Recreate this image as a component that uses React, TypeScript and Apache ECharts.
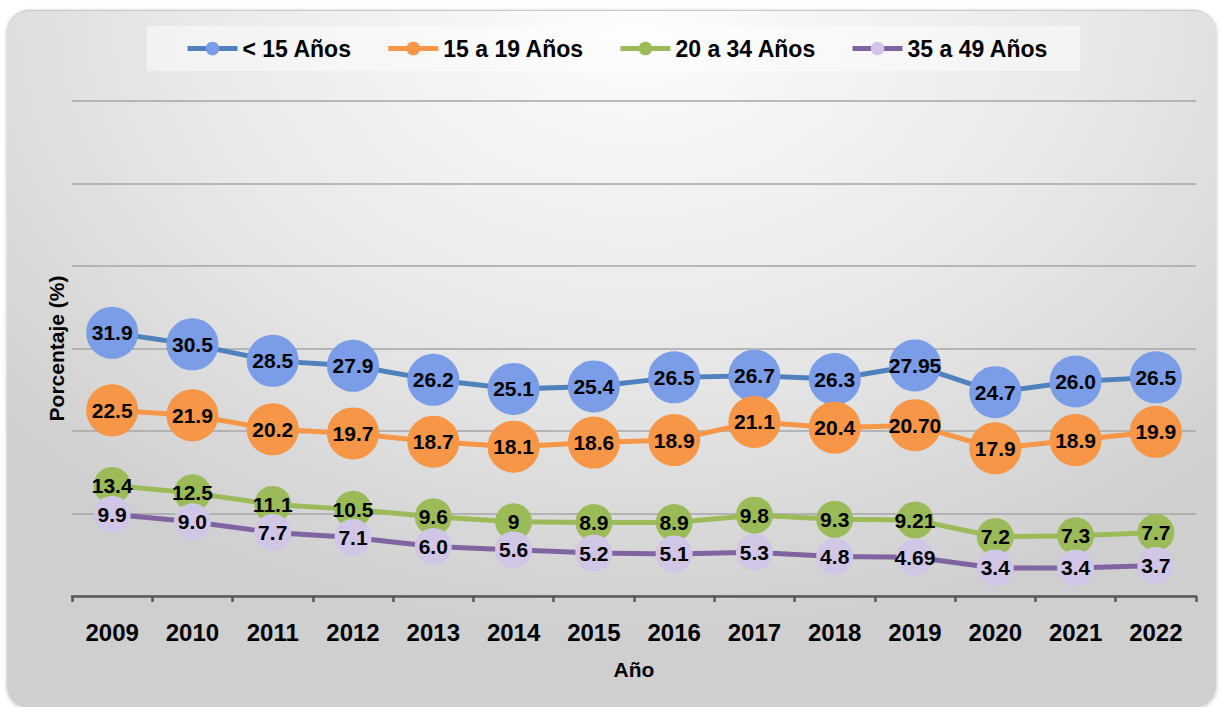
import React, { useEffect, useRef } from "react";
import * as echarts from "echarts";

const years = ["2009", "2010", "2011", "2012", "2013", "2014", "2015", "2016", "2017", "2018", "2019", "2020", "2021", "2022"];
const under15 = ["31.9", "30.5", "28.5", "27.9", "26.2", "25.1", "25.4", "26.5", "26.7", "26.3", "27.95", "24.7", "26.0", "26.5"];
const age15to19 = ["22.5", "21.9", "20.2", "19.7", "18.7", "18.1", "18.6", "18.9", "21.1", "20.4", "20.70", "17.9", "18.9", "19.9"];
const age20to34 = ["13.4", "12.5", "11.1", "10.5", "9.6", "9", "8.9", "8.9", "9.8", "9.3", "9.21", "7.2", "7.3", "7.7"];
const age35to49 = ["9.9", "9.0", "7.7", "7.1", "6.0", "5.6", "5.2", "5.1", "5.3", "4.8", "4.69", "3.4", "3.4", "3.7"];
const seriesNames = ["< 15 Años", "15 a 19 Años", "20 a 34 Años", "35 a 49 Años"];

const FONT = "'Liberation Sans', Arial, sans-serif";

function makeSeries(name: string, vals: string[], lineColor: string, markerColor: string, size: number) {
  return {
    name,
    type: "line",
    data: vals.map(Number),
    symbol: "circle",
    symbolSize: size,
    lineStyle: { color: lineColor, width: 5 },
    itemStyle: { color: markerColor, borderWidth: 0 },
    label: {
      show: true,
      position: "inside",
      color: "#000",
      fontFamily: FONT,
      fontWeight: "bold",
      fontSize: 21,
      formatter: (p: any) => vals[p.dataIndex],
    },
    emphasis: { disabled: true },
  };
}

export default function App() {
  const ref = useRef<HTMLDivElement>(null);
  useEffect(() => {
    if (!ref.current) return;
    const chart = echarts.init(ref.current, null, { renderer: "svg" });
    chart.setOption({
      animation: false,
      backgroundColor: "transparent",
      textStyle: { fontFamily: FONT },
      legend: {
        data: seriesNames,
        left: 147,
        top: 26,
        padding: [11, 32, 11, 38],
        backgroundColor: "rgba(255,255,255,0.45)",
        itemWidth: 50,
        itemHeight: 17,
        itemGap: 34,
        lineStyle: { width: 5 },
        textStyle: { fontFamily: FONT, fontWeight: "bold", fontSize: 23, color: "#000" },
      },
      grid: { left: 72, right: 25, top: 101, bottom: 111, containLabel: false },
      xAxis: {
        type: "category",
        data: years,
        boundaryGap: true,
        name: "Año",
        nameLocation: "middle",
        nameGap: 63,
        nameTextStyle: { fontFamily: FONT, fontWeight: "bold", fontSize: 21, color: "#000" },
        axisLine: { lineStyle: { color: "#595959", width: 2.5 } },
        axisTick: { show: true, length: 6, lineStyle: { color: "#595959", width: 2.5 } },
        axisLabel: { fontFamily: FONT, fontWeight: "bold", fontSize: 24, color: "#000", margin: 24 },
      },
      yAxis: {
        type: "value",
        min: 0,
        max: 60,
        interval: 10,
        name: "Porcentaje (%)",
        nameLocation: "middle",
        nameGap: 5,
        nameTextStyle: { fontFamily: FONT, fontWeight: "bold", fontSize: 21, color: "#000" },
        axisLine: { show: false },
        axisTick: { show: false },
        axisLabel: { show: false },
        splitLine: { lineStyle: { color: "#a6a6a6", width: 1.5 } },
      },
      series: [
        makeSeries(seriesNames[0], under15, "#4f81bd", "#7b9ce6", 52),
        makeSeries(seriesNames[1], age15to19, "#f79646", "#f79646", 52),
        makeSeries(seriesNames[2], age20to34, "#9bbb59", "#9bbb59", 37),
        makeSeries(seriesNames[3], age35to49, "#8064a2", "#d2c6e6", 37),
      ],
    });
    return () => chart.dispose();
  }, []);

  return (
    <div style={{ position: "fixed", left: 0, top: 0, width: 1221, height: 707, background: "#fff", overflow: "hidden" }}>
      <div
        style={{
          position: "absolute",
          left: 7,
          top: 10,
          width: 1209,
          height: 697,
          borderRadius: 22,
          borderTop: "1px solid #c8c8c8",
          background: "radial-gradient(ellipse 70% 90% at 52% 0%, #fdfdfd 0%, #e8e8e8 55%, #cfcfcf 100%)",
          boxShadow: "0 1px 4px rgba(0,0,0,0.25)",
        }}
      />
      <div ref={ref} style={{ position: "absolute", left: 0, top: 0, width: 1221, height: 707 }} />
    </div>
  );
}
